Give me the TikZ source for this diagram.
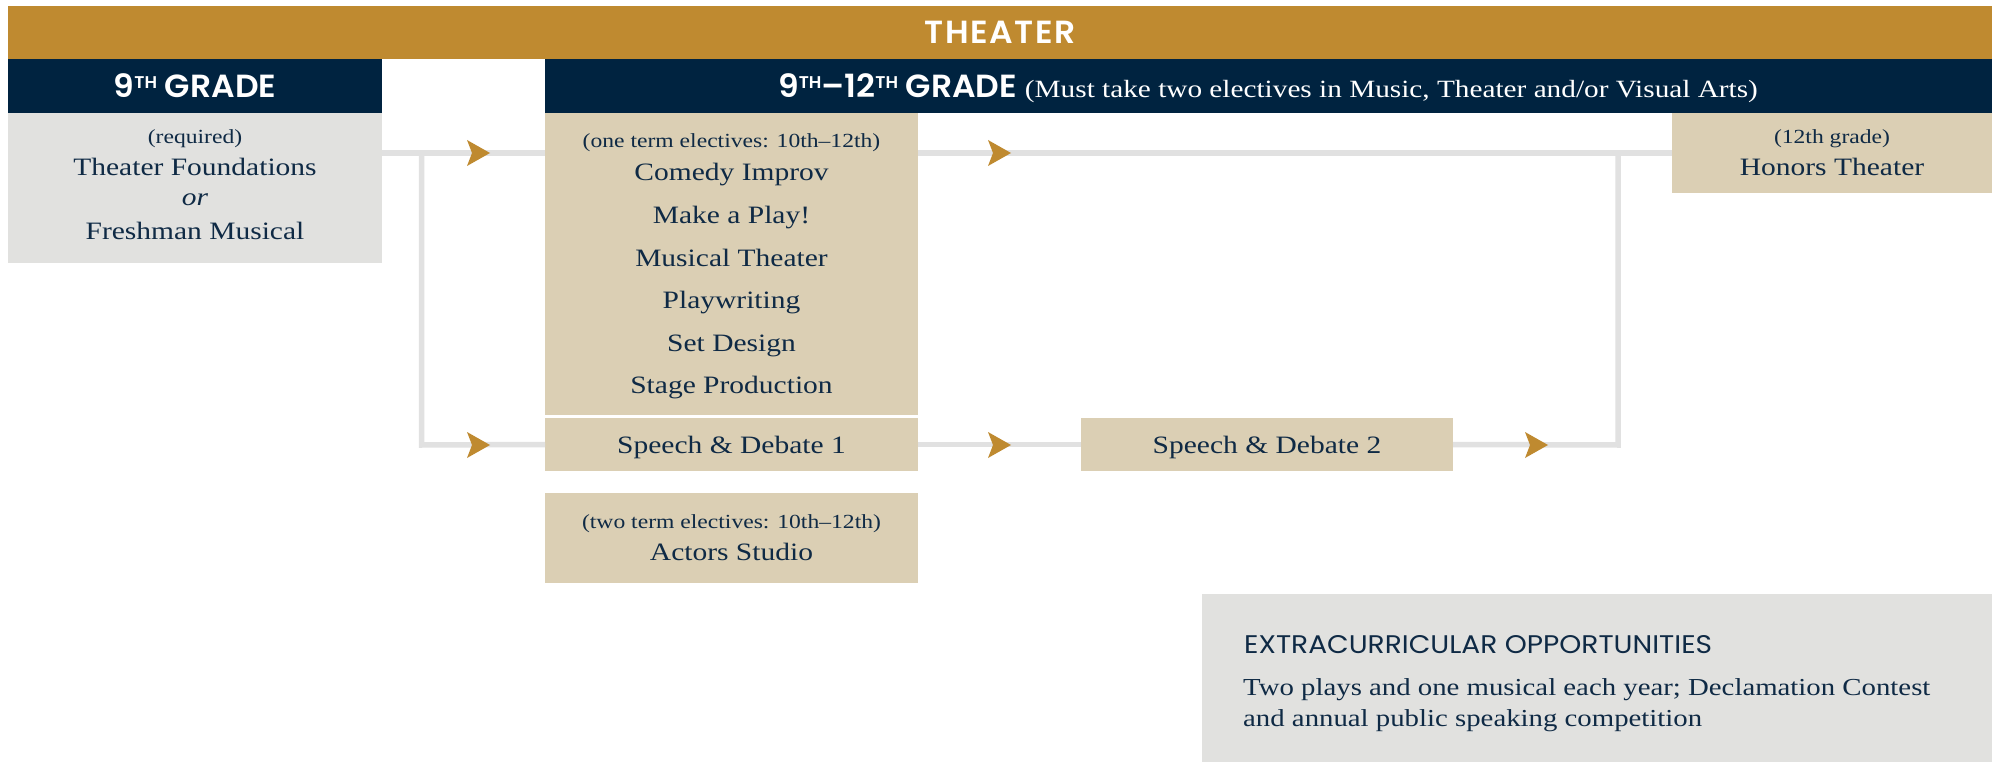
\documentclass[tikz,border=0pt]{standalone}
\usepackage{fontspec}
\setmainfont{Liberation Serif}[FakeStretch=1.18]
\newfontfamily\hdr{Poppins}[FakeStretch=1.1]
\newfontfamily\hdrb{Poppins}[UprightFont=* SemiBold, FakeStretch=1.03]
\usetikzlibrary{calc}
\definecolor{gold}{RGB}{191,138,48}
\definecolor{navy}{RGB}{0,35,64}
\definecolor{tan}{RGB}{219,207,180}
\definecolor{boxgray}{RGB}{225,225,223}
\definecolor{linegray}{RGB}{225,225,225}
\definecolor{ink}{RGB}{15,42,69}
\newcommand\thsup[1]{\raisebox{9.5pt}{\fontsize{17}{17}\selectfont #1}}
\tikzset{
  box/.style={draw=none, inner sep=0pt, outer sep=0pt, anchor=north west},
  hd/.style={inner sep=0pt, anchor=base, text=white, font=\hdrb\fontsize{32}{32}\selectfont},
  big/.style={inner sep=0pt, anchor=base, text=ink, font=\fontsize{25}{25}\selectfont},
  small/.style={inner sep=0pt, anchor=base, text=ink, font=\fontsize{20}{20}\selectfont},
  conn/.style={draw=linegray, line width=5.5pt},
  ahead/.pic={\fill[gold] (0,0) -- (-23,-13) -- (-18,0) -- (-23,13) -- cycle;}
}
\begin{document}
\begin{tikzpicture}[x=1pt,y=-1pt]
\useasboundingbox (0,0) rectangle (1997,762);
% boxes
\node[box, fill=gold, minimum width=1984pt, minimum height=53pt] (bar) at (8,6) {};
\node[box, fill=navy, minimum width=374pt, minimum height=54pt] (h9) at (8,59) {};
\node[box, fill=navy, minimum width=1447pt, minimum height=54pt] (h12) at (545,59) {};
\node[box, fill=boxgray, minimum width=374pt, minimum height=150pt] (found) at (8,113) {};
\node[box, fill=tan, minimum width=373pt, minimum height=302pt] (elec) at (545,113) {};
\node[box, fill=tan, minimum width=373pt, minimum height=53pt] (sd1) at (545,418) {};
\node[box, fill=tan, minimum width=373pt, minimum height=90pt] (actors) at (545,493) {};
\node[box, fill=tan, minimum width=372pt, minimum height=53pt] (sd2) at (1081,418) {};
\node[box, fill=tan, minimum width=320pt, minimum height=80pt] (honors) at (1672,113) {};
\node[box, fill=boxgray, minimum width=790pt, minimum height=168pt] (extra) at (1202,594) {};
% header texts
\node[hd] (tTheater) at (1000,44) {T\kern1.5pt H\kern1.5pt E\kern1.5pt A\kern1.5pt T\kern1.5pt E\kern1.5pt R};
\node[hd] (t9) at (195,98) {9\thsup{TH} GRADE};
\node[hd] (t12) at (1268,98) {9\thsup{TH}–12\thsup{TH} GRADE {\normalfont\fontsize{24.8}{24.8}\selectfont(Must take two electives in Music, Theater and/or Visual Arts)}};
% 9th grade box
\node[small] (req) at (195,144) {(required)};
\node[big] (tf) at (195,176) {Theater Foundations};
\node[big] (tor) at (195,206) {\itshape or};
\node[big] (fm) at (195,240) {Freshman Musical};
% electives
\node[small] (one) at (731.5,148) {(one term electives: 10th–12th)};
\node[big] (e1) at (731.5,181) {Comedy Improv};
\node[big] (e2) at (731.5,223.5) {Make a Play!};
\node[big] (e3) at (731.5,266) {Musical Theater};
\node[big] (e4) at (731.5,308.5) {Playwriting};
\node[big] (e5) at (731.5,351) {Set Design};
\node[big] (e6) at (731.5,393.5) {Stage Production};
\node[big] (tsd1) at (731.5,453) {Speech \& Debate 1};
\node[small] (two) at (731.5,528) {(two term electives: 10th–12th)};
\node[big] (tas) at (731.5,560) {Actors Studio};
\node[big] (tsd2) at (1267,453) {Speech \& Debate 2};
\node[small] (g12) at (1832,144) {(12th grade)};
\node[big] (tht) at (1832,176) {Honors Theater};
% extracurricular
\node[inner sep=0pt, anchor=base west, text=ink, font=\hdr\fontsize{25.5}{25.5}\selectfont] (xt) at (1244,653) {EXTRACURRICULAR OPPORTUNITIES};
\node[big, anchor=base west, font=\fontsize{24.4}{24.4}\selectfont] (x1) at (1243,695) {Two plays and one musical each year; Declamation Contest};
\node[big, anchor=base west, font=\fontsize{24.4}{24.4}\selectfont] (x2) at (1243,726) {and annual public speaking competition};
% connector coordinates
\coordinate (rowA) at (0,153);
\coordinate (rowB) at (0,445);
\coordinate (jL) at (421.5,153);
\coordinate (jR) at (1618,153);
% connectors
\draw[conn] (found.east |- rowA) -- (elec.west |- rowA);
\draw[conn] (jL) -- (jL |- rowB) -- (sd1.west);
\draw[conn] (elec.east |- rowA) -- (honors.west |- rowA);
\draw[conn] (sd1.east) -- (sd2.west);
\draw[conn] (sd2.east) -- (jR |- rowB) -- (jR);
% arrowheads
\pic at (490,153) {ahead};
\pic at (490,445) {ahead};
\pic at (1011,153) {ahead};
\pic at (1011,445) {ahead};
\pic at (1548,445) {ahead};
\end{tikzpicture}
\end{document}
